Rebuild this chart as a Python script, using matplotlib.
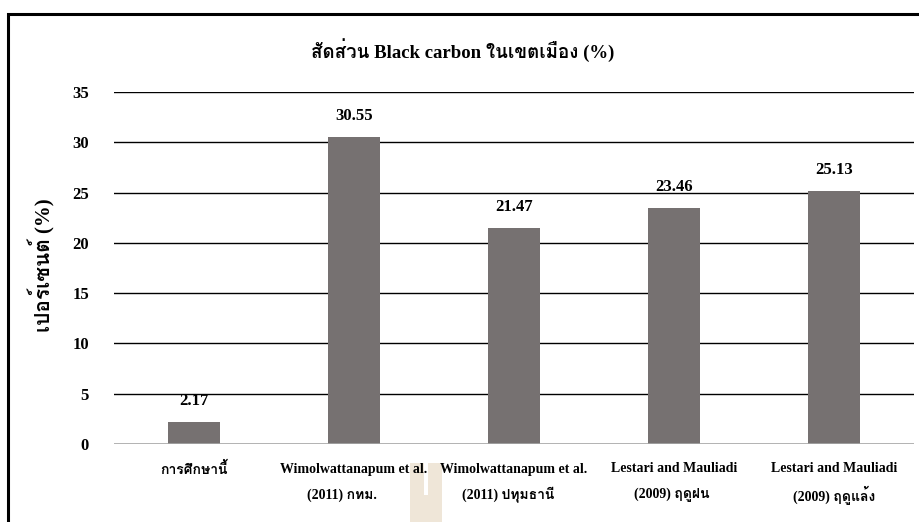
import matplotlib
matplotlib.use("Agg")
import matplotlib.pyplot as plt
from matplotlib import font_manager as fm
from matplotlib.ft2font import FT2Font
from matplotlib.patches import Rectangle

categories = [
    "การศึกษานี้",
    "Wimolwattanapum et al.\n(2011) กทม.",
    "Wimolwattanapum et al.\n(2011) ปทุมธานี",
    "Lestari and Mauliadi\n(2009) ฤดูฝน",
    "Lestari and Mauliadi\n(2009) ฤดูแล้ง",
]
values = [2.17, 30.55, 21.47, 23.46, 25.13]
yticks = [0, 5, 10, 15, 20, 25, 30, 35]
title = "สัดส่วน Black carbon ในเขตเมือง (%)"
ylabel = "เปอร์เซนต์ (%)"


def thai_capable_families():
    found = []
    for entry in fm.fontManager.ttflist:
        try:
            if 0x0E2A in FT2Font(entry.fname).get_charmap():
                if entry.name not in found:
                    found.append(entry.name)
        except Exception:
            pass
    return found


thai = thai_capable_families()
families = ["Liberation Serif"] + thai + ["DejaVu Sans"]
plt.rcParams["font.family"] = families

W, H = 919, 522
fig = plt.figure(figsize=(W / 100, H / 100), dpi=100)

# outer chart border
fig.patches.append(Rectangle((8 / W, -0.1), 1.2, 1 - 14 / H + 0.1,
                             transform=fig.transFigure, fill=False,
                             edgecolor="black", linewidth=2.2, zorder=0))

ax = fig.add_axes([114 / W, 1 - 444 / H, 800 / W, 352 / H])
x = range(len(categories))
ax.bar(x, values, width=0.32, color="#767171", zorder=3)
ax.set_xlim(-0.5, len(categories) - 0.5)
ax.set_ylim(0, 35)
ax.set_yticks(yticks)
ax.set_yticklabels([str(t) for t in yticks], fontsize=12, fontweight="bold")
for t in yticks[1:]:
    ax.axhline(t, color="black", linewidth=1.0, zorder=1)
ax.axhline(0, color="#a6a6a6", linewidth=1.2, zorder=4)
for s in ax.spines.values():
    s.set_visible(False)
ax.tick_params(axis="y", length=0, pad=18)
ax.tick_params(axis="x", length=0)
ax.set_xticks([])

# horizontal nudge (px) of each label's second line
second_line_shift = [0, -12, -6, -2, 0]
for i, (c, v) in enumerate(zip(categories, values)):
    ax.annotate(f"{v:.2f}", (i, v), xytext=(0, 15), textcoords="offset points",
                ha="center", va="center", fontsize=12, fontweight="bold")
    lines = c.split("\n")
    for j, line in enumerate(lines):
        cx = 114 + 80 + 160 * i + (second_line_shift[i] if j else 0)
        fig.text(cx / W, 1 - (469 + 26 * j) / H, line,
                 ha="center", va="center", fontsize=10, fontweight="bold",
                 zorder=5)

fig.text(463 / W, 1 - 50 / H, title, ha="center", va="center",
         fontsize=13.5, fontweight="bold")
fig.text(42 / W, 1 - 265 / H, ylabel, ha="center", va="center",
         rotation=90, fontsize=15, fontweight="bold")

# small tan tag near the bottom edge
fig.patches.append(Rectangle((410 / W, 0), 32 / W, (522 - 463) / H,
                             transform=fig.transFigure, facecolor="#efe6d8",
                             edgecolor="none", zorder=1))
fig.patches.append(Rectangle((424 / W, 1 - 495 / H), 4 / W, 32 / H,
                             transform=fig.transFigure, facecolor="white",
                             edgecolor="none", zorder=2))

fig.savefig("out.png", dpi=100)
